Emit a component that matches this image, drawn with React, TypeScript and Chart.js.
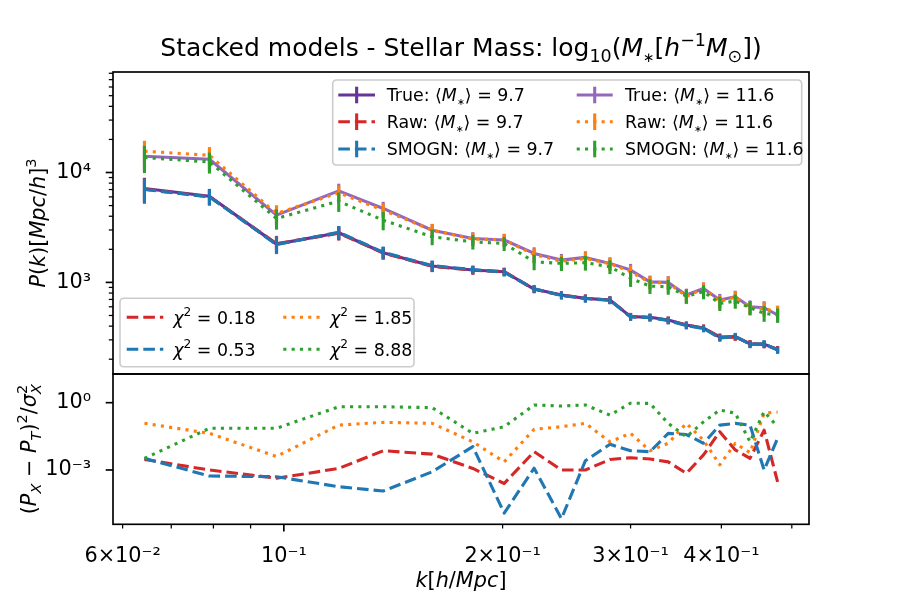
import React, { useEffect, useRef } from 'react';
import { Chart, registerables } from 'chart.js';
Chart.register(...registerables);

const FONT = '"DejaVu Sans", "Noto Sans", sans-serif';

// ---------------- data ----------------
const kValues = [0.0643, 0.079, 0.0977, 0.119, 0.137, 0.16, 0.182, 0.201, 0.221, 0.241, 0.26, 0.281, 0.3, 0.319, 0.338, 0.358, 0.378, 0.398, 0.418, 0.438, 0.458, 0.478];

const pTrue97 = [7160, 6090, 2230, 2830, 1860, 1410, 1295, 1250, 870, 768, 716, 692, 488, 482, 455, 410, 383, 317, 321, 276, 274, 244];
const pRaw97 = [7050, 6020, 2250, 2800, 1850, 1400, 1290, 1255, 866, 765, 718, 690, 490, 480, 452, 408, 385, 318, 318, 277, 272, 246];
const pSmogn97 = [7000, 6000, 2210, 2860, 1880, 1420, 1310, 1235, 875, 760, 713, 688, 485, 478, 450, 404, 380, 312, 323, 273, 277, 242];
const pTrue116 = [14060, 13210, 4090, 6810, 4710, 2980, 2510, 2430, 1836, 1596, 1688, 1489, 1294, 1012, 1000, 767, 881, 691, 740, 600, 588, 505];
const pRaw116 = [15640, 14340, 4240, 6530, 4540, 2990, 2480, 2440, 1790, 1560, 1650, 1480, 1250, 1000, 990, 745, 875, 670, 735, 585, 575, 540];
const pSmogn116 = [13680, 12480, 3820, 5480, 3680, 2600, 2340, 2260, 1540, 1490, 1510, 1390, 1090, 925, 912, 750, 822, 644, 676, 588, 523, 505];

const err97 = [1800, 1000, 400, 400, 240, 160, 115, 105, 70, 62, 58, 55, 38, 38, 35, 31, 29, 24, 24, 21, 21, 18];
const err116 = [3800, 2700, 800, 1100, 700, 420, 350, 330, 250, 220, 230, 200, 180, 140, 140, 110, 120, 95, 100, 85, 85, 75];

const chiRaw97 = [2.95e-3, 1.0e-3, 4.3e-4, 1.17e-3, 7.2e-3, 5.1e-3, 1.17e-3, 2.5e-4, 6.5e-3, 1.0e-3, 1.0e-3, 2.95e-3, 3.5e-3, 3.1e-3, 2.3e-3, 7.1e-4, 4.7e-3, 0.051, 7.8e-3, 3.3e-3, 0.06, 2.95e-4];
const chiSmogn97 = [3.3e-3, 5.4e-4, 5.0e-4, 1.8e-4, 1.15e-4, 8.3e-4, 0.011, 1.2e-5, 1.2e-3, 6.8e-6, 2.6e-3, 0.014, 7.2e-3, 6.5e-3, 0.043, 0.038, 0.0155, 0.1, 0.12, 0.1, 1.0e-3, 0.026];
const chiRaw116 = [0.12, 0.043, 0.004, 0.1, 0.133, 0.12, 0.018, 0.0023, 0.065, 0.085, 0.12, 0.018, 0.043, 0.0072, 0.0155, 0.12, 0.021, 0.0017, 0.0155, 0.0059, 0.34, 0.38];
const chiSmogn116 = [0.0033, 0.072, 0.072, 0.66, 0.66, 0.6, 0.043, 0.085, 0.79, 0.71, 0.79, 0.28, 0.95, 0.93, 0.12, 0.03, 0.14, 0.47, 0.34, 0.018, 0.4, 0.085];

const chiTotals = ['0.18', '0.53', '1.85', '8.88'];
const seriesNames = ['True', 'Raw', 'SMOGN'];
const massValues = ['9.7', '11.6'];

const xTickValues = [0.06, 0.07, 0.08, 0.09, 0.1, 0.2, 0.3, 0.4, 0.5];
const xTickLabels = ['6×10⁻²', '', '', '', '10⁻¹', '2×10⁻¹', '3×10⁻¹', '4×10⁻¹', ''];
const topYTickValues = [200, 300, 400, 500, 600, 700, 800, 900, 1000, 2000, 3000, 4000, 5000, 6000, 7000, 8000, 9000, 10000, 20000, 30000, 40000, 50000, 60000, 70000, 80000];
const topYMajor = [1000, 10000];
const topYMajorLabels = ['10³', '10⁴'];
const botYTickValues = [0.001, 1];
const botYTickLabels = ['10⁻³', '10⁰'];

const xMin = 0.0582, xMax = 0.528;
const topYMin = 146.7, topYMax = 82150;
const botYMin = 3.79e-6, botYMax = 19.0;

// ---------------- styles ----------------
const C_TRUE97 = '#663399';
const C_RAW97 = '#d62728';
const C_SMOGN97 = '#1f77b4';
const C_TRUE116 = '#9467bd';
const C_RAW116 = '#ff7f0e';
const C_SMOGN116 = '#2ca02c';
const LW = 3.1;
const SOLID: number[] = [];
const DASHED = [11.6, 5.0];
const DOTTED = [3.1, 5.2];
const TICK_FS = 20.8;
const LEG_FS = 17.4;

type Seg = { t: string; it?: boolean; sub?: boolean; sup?: boolean; stack?: boolean; small?: boolean };

function segSize(s: Seg, size: number) { return s.small ? size * 0.55 : s.sub || s.sup ? size * 0.7 : size; }
function setFont(ctx: CanvasRenderingContext2D, s: Seg, size: number) {
  ctx.font = `${s.it ? 'italic ' : ''}${segSize(s, size)}px ${FONT}`;
}
function richWidth(ctx: CanvasRenderingContext2D, segs: Seg[], size: number) {
  let w = 0;
  for (const s of segs) { setFont(ctx, s, size); if (!s.stack) w += ctx.measureText(s.t).width; }
  return w;
}
function drawRich(ctx: CanvasRenderingContext2D, segs: Seg[], x: number, y: number, size: number, align: 'left' | 'center' | 'right') {
  const w = richWidth(ctx, segs, size);
  let cx = align === 'center' ? x - w / 2 : align === 'right' ? x - w : x;
  ctx.textAlign = 'left';
  ctx.textBaseline = 'alphabetic';
  ctx.fillStyle = '#000';
  for (const s of segs) {
    setFont(ctx, s, size);
    const dy = s.sub ? size * 0.22 : s.sup ? -size * 0.42 : 0;
    ctx.fillText(s.t, cx, y + dy);
    if (!s.stack) cx += ctx.measureText(s.t).width;
  }
}

function roundBox(ctx: CanvasRenderingContext2D, x: number, y: number, w: number, h: number, r: number) {
  ctx.save();
  ctx.beginPath();
  ctx.moveTo(x + r, y);
  ctx.lineTo(x + w - r, y);
  ctx.quadraticCurveTo(x + w, y, x + w, y + r);
  ctx.lineTo(x + w, y + h - r);
  ctx.quadraticCurveTo(x + w, y + h, x + w - r, y + h);
  ctx.lineTo(x + r, y + h);
  ctx.quadraticCurveTo(x, y + h, x, y + h - r);
  ctx.lineTo(x, y + r);
  ctx.quadraticCurveTo(x, y, x + r, y);
  ctx.closePath();
  ctx.fillStyle = 'rgba(255,255,255,0.8)';
  ctx.fill();
  ctx.strokeStyle = '#cccccc';
  ctx.lineWidth = 1.6;
  ctx.stroke();
  ctx.restore();
}

function drawHandle(ctx: CanvasRenderingContext2D, x1: number, x2: number, y: number, color: string, dash: number[], bar: boolean) {
  ctx.save();
  ctx.strokeStyle = color;
  ctx.lineWidth = LW;
  ctx.lineCap = 'butt';
  ctx.setLineDash(dash);
  ctx.beginPath(); ctx.moveTo(x1, y); ctx.lineTo(x2, y); ctx.stroke();
  if (bar) {
    ctx.setLineDash([]);
    const xm = (x1 + x2) / 2;
    ctx.beginPath(); ctx.moveTo(xm, y - 8.3); ctx.lineTo(xm, y + 8.3); ctx.stroke();
  }
  ctx.restore();
}

function isDecade(v: number) { const l = Math.log10(v); return Math.abs(l - Math.round(l)) < 1e-9; }

function drawFrameAndTicks(chart: any) {
  const ctx: CanvasRenderingContext2D = chart.ctx;
  const a = chart.chartArea;
  ctx.save();
  ctx.strokeStyle = '#000';
  ctx.lineCap = 'butt';
  for (const id of ['x', 'y']) {
    const s = chart.scales[id];
    if (!s || !s.options.display) continue;
    for (const t of s.ticks) {
      const major = isDecade(t.value);
      const len = major ? 7.3 : 4.2;
      ctx.lineWidth = major ? 1.67 : 1.25;
      const p = s.getPixelForValue(t.value);
      ctx.beginPath();
      if (id === 'x') { ctx.moveTo(p, a.bottom); ctx.lineTo(p, a.bottom + len); }
      else { ctx.moveTo(a.left, p); ctx.lineTo(a.left - len, p); }
      ctx.stroke();
    }
  }
  ctx.lineWidth = 1.67;
  ctx.strokeRect(a.left, a.top, a.right - a.left, a.bottom - a.top);
  ctx.restore();
}

const errorBarPlugin = {
  id: 'errorBars',
  afterDatasetDraw(chart: any, args: any) {
    const ds = chart.data.datasets[args.index];
    const errs: number[] | undefined = ds.errors;
    if (!errs) return;
    const xs = chart.scales.x, ys = chart.scales.y, a = chart.chartArea;
    const ctx: CanvasRenderingContext2D = chart.ctx;
    ctx.save();
    ctx.beginPath(); ctx.rect(a.left, a.top, a.right - a.left, a.bottom - a.top); ctx.clip();
    ctx.strokeStyle = ds.borderColor; ctx.lineWidth = ds.borderWidth; ctx.setLineDash([]); ctx.lineCap = 'butt';
    ds.data.forEach((pt: any, i: number) => {
      const e = errs[i];
      const px = xs.getPixelForValue(pt.x);
      const t = ys.getPixelForValue(pt.y + e);
      const b = ys.getPixelForValue(Math.max(pt.y - e, 1e-9));
      ctx.beginPath(); ctx.moveTo(px, t); ctx.lineTo(px, b); ctx.stroke();
    });
    ctx.restore();
  },
};

const titleSegs: Seg[] = [
  { t: 'Stacked models - Stellar Mass: log' }, { t: '10', sub: true }, { t: '(' }, { t: 'M', it: true }, { t: '∗', sub: true, small: true },
  { t: '[' }, { t: 'h', it: true }, { t: '−1', sup: true }, { t: 'M', it: true }, { t: '⊙', sub: true }, { t: '])' },
];
const topYLabelSegs: Seg[] = [
  { t: 'P', it: true }, { t: '(' }, { t: 'k', it: true }, { t: ')[' }, { t: 'Mpc', it: true }, { t: '/' }, { t: 'h', it: true }, { t: ']' }, { t: '3', sup: true },
];
const botYLabelSegs: Seg[] = [
  { t: '(' }, { t: 'P', it: true }, { t: 'X', it: true, sub: true }, { t: ' − ' }, { t: 'P', it: true }, { t: 'T', it: true, sub: true }, { t: ')' },
  { t: '2', sup: true }, { t: '/' }, { t: 'σ', it: true }, { t: '2', sup: true, stack: true }, { t: 'X', it: true, sub: true },
];
const xLabelSegs: Seg[] = [{ t: 'k', it: true }, { t: '[' }, { t: 'h', it: true }, { t: '/' }, { t: 'Mpc', it: true }, { t: ']' }];

const topDecor = {
  id: 'topDecor',
  afterDraw(chart: any) {
    const ctx: CanvasRenderingContext2D = chart.ctx;
    drawFrameAndTicks(chart);
    const a = chart.chartArea;
    // title
    drawRich(ctx, titleSegs, (a.left + a.right) / 2, 56, 25, 'center');
    // y label
    ctx.save();
    ctx.translate(45, (a.top + a.bottom) / 2);
    ctx.rotate(-Math.PI / 2);
    drawRich(ctx, topYLabelSegs, 0, 0, TICK_FS, 'center');
    ctx.restore();
    // series legend (2 columns x 3 rows)
    roundBox(ctx, 332.7, 80, 469, 85, 4);
    const ds = chart.data.datasets;
    const rows = [95, 121.7, 149];
    const cols = [{ h1: 338.3, h2: 375, tx: 386.7 }, { h1: 576.7, h2: 612.7, tx: 625 }];
    for (let c = 0; c < 2; c++) {
      for (let r = 0; r < 3; r++) {
        const d = ds[c * 3 + r];
        drawHandle(ctx, cols[c].h1, cols[c].h2, rows[r], d.borderColor, d.borderDash, true);
        const segs: Seg[] = [{ t: seriesNames[r] + ': ⟨' }, { t: 'M', it: true }, { t: '∗', sub: true, small: true }, { t: '⟩ = ' + massValues[c] }];
        drawRich(ctx, segs, cols[c].tx, rows[r] + 6.2, LEG_FS, 'left');
      }
    }
    // chi^2 legend
    roundBox(ctx, 120, 298.3, 294, 68.4, 4);
    const chiStyles = [
      { color: C_RAW97, dash: DASHED }, { color: C_SMOGN97, dash: DASHED },
      { color: C_RAW116, dash: DOTTED }, { color: C_SMOGN116, dash: DOTTED },
    ];
    const crow = [317.3, 349.3];
    const ccol = [{ h1: 126.7, h2: 163.3, tx: 173.3 }, { h1: 283.3, h2: 320, tx: 330 }];
    for (let c = 0; c < 2; c++) {
      for (let r = 0; r < 2; r++) {
        const idx = c * 2 + r;
        drawHandle(ctx, ccol[c].h1, ccol[c].h2, crow[r], chiStyles[idx].color, chiStyles[idx].dash, false);
        const segs: Seg[] = [{ t: 'χ', it: true }, { t: '2', sup: true }, { t: ' = ' + chiTotals[idx] }];
        drawRich(ctx, segs, ccol[c].tx, crow[r] + 6.2, LEG_FS, 'left');
      }
    }
  },
};

const botDecor = {
  id: 'botDecor',
  afterDraw(chart: any) {
    const ctx: CanvasRenderingContext2D = chart.ctx;
    drawFrameAndTicks(chart);
    const a = chart.chartArea;
    ctx.save();
    ctx.translate(36, (a.top + a.bottom) / 2);
    ctx.rotate(-Math.PI / 2);
    drawRich(ctx, botYLabelSegs, 0, 0, TICK_FS, 'center');
    ctx.restore();
    drawRich(ctx, xLabelSegs, (a.left + a.right) / 2, 217, TICK_FS, 'center');
  },
};

function lineDs(label: string, values: number[], color: string, dash: number[], order: number, errors?: number[]) {
  return {
    label,
    data: kValues.map((k, i) => ({ x: k, y: values[i] })),
    borderColor: color,
    backgroundColor: color,
    borderWidth: LW,
    borderDash: dash,
    borderCapStyle: 'butt',
    borderJoinStyle: 'round',
    pointRadius: 0,
    pointHoverRadius: 0,
    fill: false,
    tension: 0,
    order,
    errors,
  };
}

const tickFont = { family: FONT, size: TICK_FS };

function fixWidth(w: number) {
  return (s: any) => { s.width = w; s.paddingTop = 0; s.paddingBottom = 0; s.paddingLeft = 0; s.paddingRight = 0; };
}
function fixHeight(h: number) {
  return (s: any) => { s.height = h; s.paddingTop = 0; s.paddingBottom = 0; s.paddingLeft = 0; s.paddingRight = 0; };
}

function topConfig(): any {
  return {
    type: 'line',
    data: {
      datasets: [
        lineDs('True 9.7', pTrue97, C_TRUE97, SOLID, 6, err97),
        lineDs('Raw 9.7', pRaw97, C_RAW97, DASHED, 5, err97),
        lineDs('SMOGN 9.7', pSmogn97, C_SMOGN97, DASHED, 4, err97),
        lineDs('True 11.6', pTrue116, C_TRUE116, SOLID, 3, err116),
        lineDs('Raw 11.6', pRaw116, C_RAW116, DOTTED, 2, err116),
        lineDs('SMOGN 11.6', pSmogn116, C_SMOGN116, DOTTED, 1, err116),
      ],
    },
    options: {
      responsive: false,
      animation: false,
      events: [],
      layout: { padding: { top: 72, right: 91, bottom: 2, left: 0 } },
      plugins: { legend: { display: false }, tooltip: { enabled: false }, title: { display: false } },
      scales: {
        x: { type: 'logarithmic', display: false, min: xMin, max: xMax },
        y: {
          type: 'logarithmic', min: topYMin, max: topYMax,
          afterBuildTicks: (s: any) => { s.ticks = topYTickValues.map((v) => ({ value: v })); },
          afterFit: fixWidth(113),
          grid: { display: false }, border: { display: false },
          ticks: {
            autoSkip: false, padding: 14, font: tickFont, color: '#000',
            callback: (_v: any, i: number) => {
              const j = topYMajor.indexOf(topYTickValues[i]);
              return j >= 0 ? topYMajorLabels[j] : '';
            },
          },
        },
      },
    },
    plugins: [errorBarPlugin, topDecor],
  };
}

function botConfig(): any {
  return {
    type: 'line',
    data: {
      datasets: [
        lineDs('χ2 raw 9.7', chiRaw97, C_RAW97, DASHED, 4),
        lineDs('χ2 smogn 9.7', chiSmogn97, C_SMOGN97, DASHED, 3),
        lineDs('χ2 raw 11.6', chiRaw116, C_RAW116, DOTTED, 2),
        lineDs('χ2 smogn 11.6', chiSmogn116, C_SMOGN116, DOTTED, 1),
      ],
    },
    options: {
      responsive: false,
      animation: false,
      events: [],
      layout: { padding: { top: 4, right: 91, bottom: 0, left: 0 } },
      plugins: { legend: { display: false }, tooltip: { enabled: false }, title: { display: false } },
      scales: {
        x: {
          type: 'logarithmic', min: xMin, max: xMax,
          afterBuildTicks: (s: any) => { s.ticks = xTickValues.map((v) => ({ value: v })); },
          afterFit: fixHeight(75.7),
          grid: { display: false }, border: { display: false },
          ticks: {
            autoSkip: false, maxRotation: 0, minRotation: 0, padding: 12, font: tickFont, color: '#000',
            callback: (_v: any, i: number) => xTickLabels[i],
          },
        },
        y: {
          type: 'logarithmic', min: botYMin, max: botYMax,
          afterBuildTicks: (s: any) => { s.ticks = botYTickValues.map((v) => ({ value: v })); },
          afterFit: fixWidth(113),
          grid: { display: false }, border: { display: false },
          ticks: {
            autoSkip: false, padding: 14, font: tickFont, color: '#000',
            callback: (_v: any, i: number) => botYTickLabels[i],
          },
        },
      },
    },
    plugins: [botDecor],
  };
}

export default function App() {
  const topRef = useRef<HTMLCanvasElement>(null);
  const botRef = useRef<HTMLCanvasElement>(null);
  useEffect(() => {
    const top = new Chart(topRef.current as HTMLCanvasElement, topConfig());
    const bot = new Chart(botRef.current as HTMLCanvasElement, botConfig());
    return () => { top.destroy(); bot.destroy(); };
  }, []);
  return (
    <div style={{ position: 'absolute', left: 0, top: 0, width: 900, height: 600, background: '#fff' }}>
      <canvas ref={topRef} width={900} height={376} style={{ position: 'absolute', left: 0, top: 0, width: 900, height: 376 }} />
      <canvas ref={botRef} width={900} height={230} style={{ position: 'absolute', left: 0, top: 370, width: 900, height: 230 }} />
    </div>
  );
}
